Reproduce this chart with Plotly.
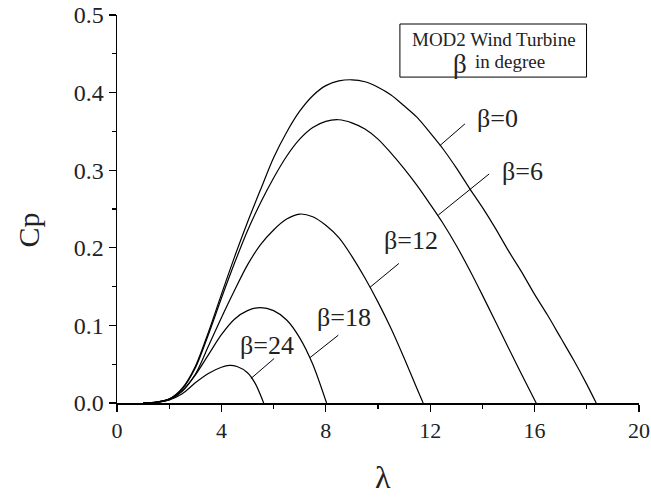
import plotly.graph_objects as go

# ---- data ----
lam_b0 = [1.0, 1.5, 2.0, 2.5, 3.0, 3.5, 4.0, 4.5, 5.0, 5.5, 6.0, 6.5, 7.0, 7.5, 8.0, 8.5, 9.0, 9.5,
          10.0, 10.5, 11.0, 11.5, 12.0, 12.5, 13.0, 13.5, 14.0, 14.5, 15.0, 15.5, 16.0, 16.5, 17.0,
          17.5, 18.0, 18.36]
cp_b0 = [0.0, 0.001, 0.005, 0.019, 0.047, 0.091, 0.140, 0.188, 0.233, 0.275, 0.316, 0.349, 0.376,
         0.396, 0.409, 0.415, 0.4165, 0.414, 0.407, 0.397, 0.383, 0.368, 0.348, 0.327, 0.303, 0.277,
         0.252, 0.225, 0.196, 0.169, 0.140, 0.113, 0.084, 0.055, 0.024, 0.0]

lam_b6 = [1.0, 1.5, 2.0, 2.5, 3.0, 3.5, 4.0, 4.5, 5.0, 5.5, 6.0, 6.5, 7.0, 7.5, 8.0, 8.5, 9.0, 9.5,
          10.0, 10.5, 11.0, 11.5, 12.0, 12.5, 13.0, 13.5, 14.0, 14.5, 15.0, 15.5, 16.06]
cp_b6 = [0.0, 0.001, 0.005, 0.018, 0.045, 0.088, 0.135, 0.180, 0.222, 0.258, 0.290, 0.318, 0.340,
         0.355, 0.363, 0.365, 0.361, 0.353, 0.340, 0.322, 0.302, 0.280, 0.256, 0.231, 0.203, 0.172,
         0.139, 0.105, 0.071, 0.037, 0.0]

lam_b12 = [1.0, 1.5, 2.0, 2.5, 3.0, 3.5, 4.0, 4.5, 5.0, 5.5, 6.0, 6.5, 7.0, 7.5, 8.0, 8.5, 9.0, 9.5,
           10.0, 10.5, 11.0, 11.5, 11.73]
cp_b12 = [0.0, 0.001, 0.005, 0.016, 0.037, 0.073, 0.110, 0.145, 0.178, 0.204, 0.223, 0.237, 0.2435,
          0.240, 0.229, 0.213, 0.189, 0.161, 0.130, 0.096, 0.058, 0.018, 0.0]

lam_b18 = [1.0, 1.5, 2.0, 2.5, 3.0, 3.5, 4.0, 4.5, 5.0, 5.5, 6.0, 6.5, 7.0, 7.5, 8.03]
cp_b18 = [0.0, 0.001, 0.004, 0.015, 0.036, 0.062, 0.088, 0.108, 0.119, 0.123, 0.119, 0.107, 0.084,
          0.050, 0.0]

lam_b24 = [1.0, 1.5, 2.0, 2.5, 3.0, 3.5, 4.0, 4.3, 4.6, 5.0, 5.3, 5.62]
cp_b24 = [0.0, 0.001, 0.004, 0.012, 0.026, 0.038, 0.046, 0.0485, 0.047, 0.039, 0.025, 0.0]

series = [("β=0", lam_b0, cp_b0), ("β=6", lam_b6, cp_b6), ("β=12", lam_b12, cp_b12),
          ("β=18", lam_b18, cp_b18), ("β=24", lam_b24, cp_b24)]

# label text position and leader line (text_x, text_y, line_x0, line_y0, line_x1, line_y1)
label_pos = {
    "β=0": (14.59, 0.366, 13.33, 0.3597, 12.37, 0.3317),
    "β=6": (15.55, 0.2977, 14.26, 0.2952, 12.31, 0.2422),
    "β=12": (11.26, 0.210, 10.80, 0.1798, 9.69, 0.149),
    "β=18": (8.70, 0.1106, 8.48, 0.0874, 7.40, 0.0586),
    "β=24": (5.75, 0.0745, 6.02, 0.0573, 5.13, 0.0315),
}

x_ticks = [0, 4, 8, 12, 16, 20]
y_ticks = [0.0, 0.1, 0.2, 0.3, 0.4, 0.5]
y_tick_text = ["0.0", "0.1", "0.2", "0.3", "0.4", "0.5"]

FONT = "Liberation Serif"

fig = go.Figure()
for name, xs, ys in series:
    fig.add_trace(go.Scatter(x=xs, y=ys, mode="lines", name=name,
                             line=dict(color="black", width=1.2, shape="spline", smoothing=0.8),
                             showlegend=False, hoverinfo="skip"))

annotations = []
shapes = []
for name, (tx, ty, x0, y0, x1, y1) in label_pos.items():
    annotations.append(dict(x=tx, y=ty, xref="x", yref="y", text=name, showarrow=False,
                            xanchor="center", yanchor="middle",
                            font=dict(family=FONT, size=26, color="#222")))
    shapes.append(dict(type="line", xref="x", yref="y", x0=x0, y0=y0, x1=x1, y1=y1,
                       line=dict(color="black", width=1)))

# legend-like box
shapes.append(dict(type="rect", xref="x", yref="y", x0=10.84, x1=17.99, y0=0.4200, y1=0.4884,
                   line=dict(color="black", width=1), fillcolor="white"))
annotations.append(dict(x=14.44, y=0.468, xref="x", yref="y", text="MOD2 Wind Turbine",
                        showarrow=False, xanchor="center", yanchor="middle",
                        font=dict(family=FONT, size=19, color="#222")))
annotations.append(dict(x=13.14, y=0.4375, xref="x", yref="y", text="β",
                        showarrow=False, xanchor="center", yanchor="middle",
                        font=dict(family=FONT, size=27, color="#222")))
annotations.append(dict(x=15.05, y=0.4397, xref="x", yref="y", text="in degree",
                        showarrow=False, xanchor="center", yanchor="middle",
                        font=dict(family=FONT, size=19, color="#222")))

# axis titles
annotations.append(dict(x=-0.170, y=0.445, xref="paper", yref="paper", text="Cp", textangle=-90,
                        showarrow=False, xanchor="center", yanchor="middle",
                        font=dict(family=FONT, size=30, color="#222")))
annotations.append(dict(x=0.509, y=-0.19, xref="paper", yref="paper", text="λ",
                        showarrow=False, xanchor="center", yanchor="middle",
                        font=dict(family=FONT, size=32, color="#222")))

fig.update_layout(
    width=651, height=501,
    margin=dict(l=117, r=12, t=15, b=98),
    paper_bgcolor="white", plot_bgcolor="white",
    annotations=annotations, shapes=shapes,
    font=dict(family=FONT, color="#222"),
)
fig.update_xaxes(range=[0, 20], tickvals=x_ticks, ticks="outside", ticklen=7, tickwidth=1.3,
                 tickcolor="black", showline=True, linecolor="black", linewidth=1.5,
                 showgrid=False, zeroline=False, automargin=False,
                 tickfont=dict(family=FONT, size=22, color="#222"),
                 minor=dict(ticks="outside", ticklen=4, tickwidth=1.2, tickcolor="black", dtick=2,
                            tick0=0, showgrid=False))
fig.update_yaxes(range=[0, 0.5], tickvals=y_ticks, ticktext=y_tick_text, ticks="outside",
                 ticklen=7, tickwidth=1.3, tickcolor="black", showline=True, linecolor="black",
                 linewidth=1.5, showgrid=False, zeroline=False, automargin=False,
                 tickfont=dict(family=FONT, size=24, color="#222"),
                 minor=dict(ticks="outside", ticklen=4, tickwidth=1.2, tickcolor="black",
                            dtick=0.05, tick0=0, showgrid=False))

# remove the default page margin so the figure fills the window exactly
fig.write_html("out.html", config={"displayModeBar": False, "staticPlot": True},
               post_script="document.body.style.margin='0';document.body.style.overflow='hidden';")
